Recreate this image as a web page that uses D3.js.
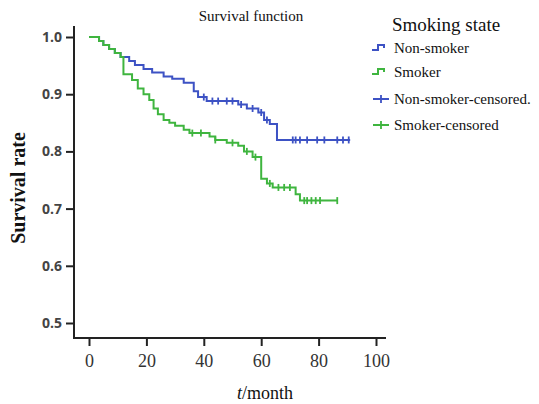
<!DOCTYPE html>
<html>
<head>
<meta charset="utf-8">
<script src="https://cdn.jsdelivr.net/npm/d3@7"></script>
<style>
  body { margin: 0; background: #fff; }
  text { font-family: "Liberation Serif", serif; }
</style>
</head>
<body>
<div id="chart"></div>
<script>
const width = 539;
const height = 404;

// Data.
const nonSmokerTimes = [0, 3.5, 5, 7, 9, 11, 14, 16, 19, 22, 26, 29, 33, 36.5, 38, 41, 52, 55, 59, 61, 63, 65.5];
const nonSmokerSurv  = [1.0, 0.993, 0.986, 0.979, 0.972, 0.965, 0.958, 0.951, 0.944, 0.938, 0.931, 0.927, 0.92, 0.905, 0.895, 0.888, 0.882, 0.875, 0.868, 0.855, 0.848, 0.82];
const nonSmokerEnd = 91;
const nonSmokerCensored = [40, 43, 45, 48, 50, 53, 57, 60, 62, 71, 72, 73.5, 76, 79.5, 82, 86.5, 88.5, 90.5];

const smokerTimes = [0, 3.5, 5, 7, 9, 11, 12, 15, 17, 19, 21, 22.5, 24, 26, 28, 30, 33, 35, 42, 44, 48, 52, 54, 57, 60, 62, 64, 72, 73.5];
const smokerSurv  = [1.0, 0.993, 0.986, 0.979, 0.972, 0.965, 0.935, 0.925, 0.91, 0.9, 0.89, 0.875, 0.865, 0.855, 0.85, 0.845, 0.838, 0.832, 0.826, 0.82, 0.815, 0.81, 0.8, 0.79, 0.752, 0.744, 0.737, 0.725, 0.714];
const smokerEnd = 86.5;
const smokerCensored = [36, 39, 44, 50, 55, 58, 63, 66, 68, 70, 75, 76, 77.5, 79, 80.5, 86.5];

const xTicks = [0, 20, 40, 60, 80, 100];
const yTicks = [0.5, 0.6, 0.7, 0.8, 0.9, 1.0];
const legendLabels = ["Non-smoker", "Smoker", "Non-smoker-censored.", "Smoker-censored"];

const blue = "#3d52c4";
const green = "#3fb53f";

const svg = d3.select("#chart")
  .append("svg")
  .attr("width", width)
  .attr("height", height);

const x = d3.scaleLinear().domain([0, 100]).range([89, 376]);
const y = d3.scaleLinear().domain([0.5, 1.0]).range([323, 37]);

// Axes
const xAxis = svg.append("g")
  .attr("transform", "translate(0,338)")
  .call(d3.axisBottom(x).tickValues(xTicks).tickSize(8).tickPadding(8).tickFormat(d3.format("d")));
xAxis.select(".domain").attr("d", "M74,0H386").attr("stroke", "#222").attr("stroke-width", 2);
xAxis.selectAll(".tick line").attr("stroke", "#222").attr("stroke-width", 2);
xAxis.selectAll(".tick text")
  .attr("fill", "#333")
  .style("font-family", "Liberation Serif, serif")
  .style("font-size", "18px");

const yAxis = svg.append("g")
  .attr("transform", "translate(74,0)")
  .call(d3.axisLeft(y).tickValues(yTicks).tickSize(8).tickPadding(4).tickFormat(d3.format(".1f")));
yAxis.select(".domain").attr("d", "M0,26V339").attr("stroke", "#222").attr("stroke-width", 2);
yAxis.selectAll(".tick line").attr("stroke", "#222").attr("stroke-width", 2);
yAxis.selectAll(".tick text")
  .attr("fill", "#444")
  .style("font-family", "Open Sans, sans-serif")
  .style("font-weight", "bold")
  .style("font-size", "14px");

// Step curves
const line = d3.line()
  .x(d => x(d[0]))
  .y(d => y(d[1]))
  .curve(d3.curveStepAfter);

function drawSeries(times, surv, end, censored, colour) {
  const pts = times.map((t, i) => [t, surv[i]]);
  pts.push([end, surv[surv.length - 1]]);
  svg.append("path")
    .datum(pts)
    .attr("fill", "none")
    .attr("stroke", colour)
    .attr("stroke-width", 2)
    .attr("d", line);

  const survAt = t => {
    let s = surv[0];
    times.forEach((tt, i) => { if (tt <= t) s = surv[i]; });
    return s;
  };

  svg.append("g")
    .selectAll("line")
    .data(censored)
    .join("line")
    .attr("x1", d => x(d))
    .attr("x2", d => x(d))
    .attr("y1", d => y(survAt(d)) - 3.5)
    .attr("y2", d => y(survAt(d)) + 3.5)
    .attr("stroke", colour)
    .attr("stroke-width", 1.8);
}

drawSeries(nonSmokerTimes, nonSmokerSurv, nonSmokerEnd, nonSmokerCensored, blue);
drawSeries(smokerTimes, smokerSurv, smokerEnd, smokerCensored, green);

// Title
svg.append("text")
  .attr("x", 251)
  .attr("y", 21)
  .attr("text-anchor", "middle")
  .style("font-size", "15px")
  .attr("fill", "#111")
  .text("Survival function");

// Axis labels
svg.append("text")
  .attr("transform", "translate(25,188) rotate(-90)")
  .attr("text-anchor", "middle")
  .style("font-size", "20px")
  .style("font-weight", "bold")
  .attr("fill", "#111")
  .text("Survival rate");

const xl = svg.append("text")
  .attr("x", 265)
  .attr("y", 399)
  .attr("text-anchor", "middle")
  .style("font-size", "18px")
  .attr("fill", "#111");
xl.append("tspan").style("font-style", "italic").text("t");
xl.append("tspan").text("/month");

// Legend
const legend = svg.append("g");
legend.append("text")
  .attr("x", 392)
  .attr("y", 31)
  .style("font-size", "19px")
  .attr("fill", "#111")
  .text("Smoking state");

const legendColours = [blue, green, blue, green];
const legendY = [49, 73, 100, 126];

legendLabels.forEach((label, i) => {
  const ly = legendY[i];
  if (i < 2) {
    legend.append("path")
      .attr("d", `M372,${ly + 1}H378V${ly - 4}H384V${ly - 1}`)
      .attr("fill", "none")
      .attr("stroke", legendColours[i])
      .attr("stroke-width", 2);
  } else {
    legend.append("path")
      .attr("d", `M373,${ly - 1}H389M381,${ly - 5}V${ly + 3}`)
      .attr("fill", "none")
      .attr("stroke", legendColours[i])
      .attr("stroke-width", 1.8);
  }
  legend.append("text")
    .attr("x", 394)
    .attr("y", ly + 4)
    .style("font-size", "15px")
    .attr("fill", "#111")
    .text(label);
});
</script>
</body>
</html>
